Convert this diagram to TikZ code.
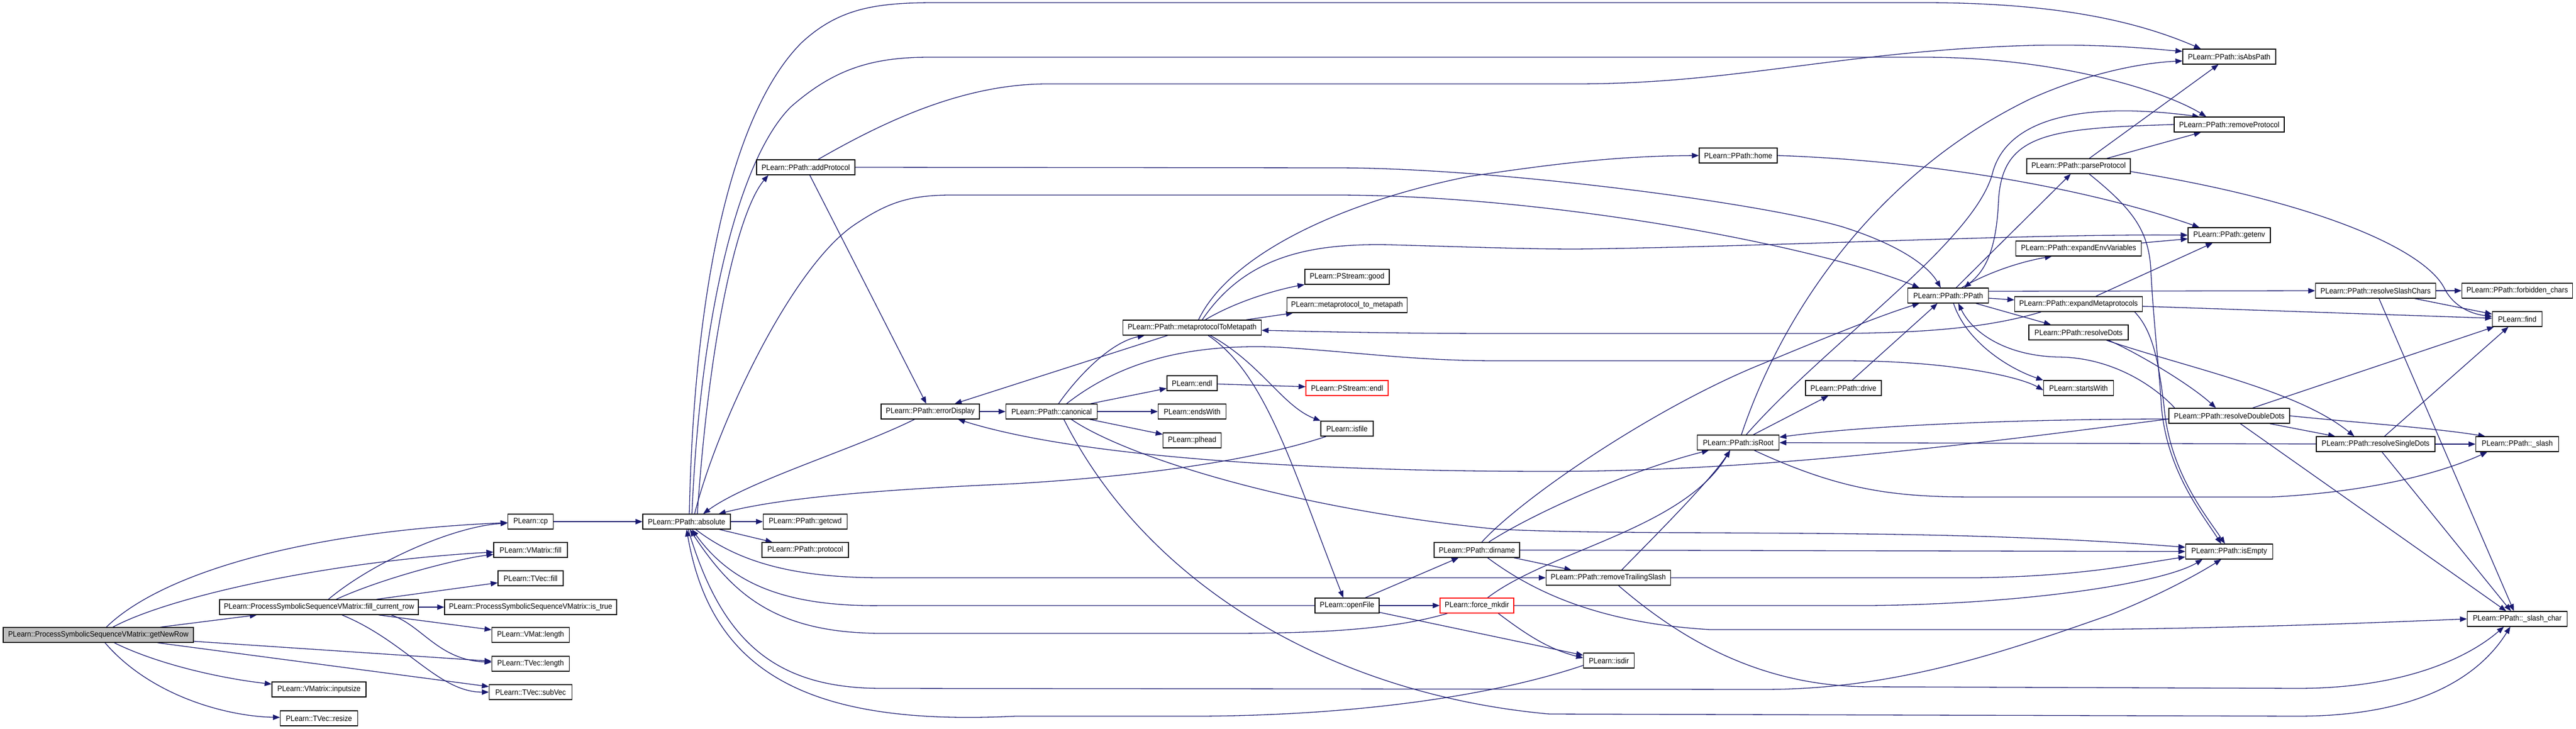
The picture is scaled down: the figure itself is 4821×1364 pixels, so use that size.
\documentclass[tikz,border=0pt]{standalone}
\usepackage{fontspec}
\newfontfamily\dfont[FakeStretch=0.92]{Liberation Sans}
\usetikzlibrary{arrows.meta}
\definecolor{edgeblue}{HTML}{191970}
\definecolor{rootgray}{HTML}{BFBFBF}
\pgfdeclarelayer{bg}
\pgfsetlayers{bg,main}
\tikzset{
 nd/.style={draw=black, line width=1.3pt, fill=white, minimum width=#1pt, minimum height=28pt, inner xsep=3pt, inner ysep=0pt, font=\dfont\fontsize{14.5}{17}\selectfont},
 ndg/.style={nd=#1, fill=rootgray},
 ndr/.style={nd=#1, draw=red},
 cge/.style={draw=edgeblue, line width=1.3pt, -{Triangle[length=13pt,width=10pt]}},
}
\begin{document}
\begin{tikzpicture}[x=1pt,y=-1pt]
\useasboundingbox (0,0) rectangle (4821,1364);
% nodes
\node[ndg=356] (gnr) at (184,1188) {PLearn::ProcessSymbolicSequenceVMatrix::getNewRow};
\node[nd=372] (fcr) at (597,1136) {PLearn::ProcessSymbolicSequenceVMatrix::fill\_current\_row};
\node[nd=176] (inputsize) at (597,1290) {PLearn::VMatrix::inputsize};
\node[nd=145] (resize) at (597,1344) {PLearn::TVec::resize};
\node[nd=85] (cp) at (993,976) {PLearn::cp};
\node[nd=138] (vmfill) at (993,1029) {PLearn::VMatrix::fill};
\node[nd=122] (tvfill) at (993,1082) {PLearn::TVec::fill};
\node[nd=322] (istrue) at (993,1136) {PLearn::ProcessSymbolicSequenceVMatrix::is\_true};
\node[nd=145] (vmlen) at (993,1188) {PLearn::VMat::length};
\node[nd=145] (tvlen) at (993,1242) {PLearn::TVec::length};
\node[nd=155] (subvec) at (993,1295) {PLearn::TVec::subVec};
\node[nd=164] (absolute) at (1285,976) {PLearn::PPath::absolute};
\node[nd=157] (getcwd) at (1507,976) {PLearn::PPath::getcwd};
\node[nd=162] (protocol) at (1507,1029) {PLearn::PPath::protocol};
\node[nd=184] (addProtocol) at (1508,313) {PLearn::PPath::addProtocol};
\node[nd=184] (errorDisplay) at (1741,770) {PLearn::PPath::errorDisplay};
\node[nd=171] (canonical) at (1968,770) {PLearn::PPath::canonical};
\node[nd=259] (mTM) at (2231,613) {PLearn::PPath::metaprotocolToMetapath};
\node[nd=94] (endl) at (2231,717) {PLearn::endl};
\node[nd=127] (endsWith) at (2231,770) {PLearn::endsWith};
\node[nd=109] (plhead) at (2231,824) {PLearn::plhead};
\node[nd=158] (good) at (2521,518) {PLearn::PStream::good};
\node[nd=225] (m2m) at (2521,571) {PLearn::metaprotocol\_to\_metapath};
\node[ndr=154] (pendl) at (2521,726) {PLearn::PStream::endl};
\node[nd=98] (isfile) at (2521,802) {PLearn::isfile};
\node[nd=120] (openFile) at (2521,1133) {PLearn::openFile};
\node[nd=160] (dirname) at (2764,1029) {PLearn::PPath::dirname};
\node[ndr=138] (forcemkdir) at (2764,1133) {PLearn::force\_mkdir};
\node[nd=233] (rts) at (3010,1081) {PLearn::PPath::removeTrailingSlash};
\node[nd=95] (isdir) at (3011,1236) {PLearn::isdir};
\node[nd=146] (home) at (3253,291) {PLearn::PPath::home};
\node[nd=153] (isRoot) at (3253,828) {PLearn::PPath::isRoot};
\node[nd=142] (drive) at (3450,726) {PLearn::PPath::drive};
\node[nd=151] (PPath) at (3646,553) {PLearn::PPath::PPath};
\node[nd=194] (parseProtocol) at (3890,311) {PLearn::PPath::parseProtocol};
\node[nd=235] (expandEnv) at (3890,465) {PLearn::PPath::expandEnvVariables};
\node[nd=239] (expandMeta) at (3890,569) {PLearn::PPath::expandMetaprotocols};
\node[nd=186] (resolveDots) at (3890,622) {PLearn::PPath::resolveDots};
\node[nd=131] (startsWith) at (3890,726) {PLearn::startsWith};
\node[nd=174] (isAbsPath) at (4172,106) {PLearn::PPath::isAbsPath};
\node[nd=206] (removeProtocol) at (4172,233) {PLearn::PPath::removeProtocol};
\node[nd=154] (getenv) at (4172,440) {PLearn::PPath::getenv};
\node[nd=226] (rdd) at (4172,778) {PLearn::PPath::resolveDoubleDots};
\node[nd=163] (isEmpty) at (4172,1032) {PLearn::PPath::isEmpty};
\node[nd=225] (rsc) at (4446,544) {PLearn::PPath::resolveSlashChars};
\node[nd=222] (rsd) at (4446,831) {PLearn::PPath::resolveSingleDots};
\node[nd=207] (forbidden) at (4711,544) {PLearn::PPath::forbidden\_chars};
\node[nd=93] (find) at (4711,597) {PLearn::find};
\node[nd=155] (slash) at (4711,831) {PLearn::PPath::\_slash};
\node[nd=187] (slashchar) at (4711,1158) {PLearn::PPath::\_slash\_char};

\begin{pgfonlayer}{bg}
\fill[white] (0,0) rectangle (4821,1364);
% getNewRow
\draw[cge] (gnr) .. controls (300,1075) and (560,995) .. (cp);
\draw[cge] (gnr) .. controls (320,1115) and (620,1050) .. (vmfill);
\draw[cge] (gnr) -- (fcr);
\draw[cge] (gnr) -- (tvlen);
\draw[cge] (gnr) -- (subvec);
\draw[cge] (gnr) .. controls (300,1245) and (420,1270) .. (inputsize);
\draw[cge] (gnr) .. controls (280,1300) and (420,1340) .. (resize);
% fill_current_row
\draw[cge] (fcr) .. controls (700,1050) and (850,985) .. (cp);
\draw[cge] (fcr) .. controls (720,1080) and (860,1045) .. (vmfill);
\draw[cge] (fcr) -- (tvfill);
\draw[cge] (fcr) -- (istrue);
\draw[cge] (fcr) -- (vmlen);
\draw[cge] ([xshift=135pt]fcr.south) .. controls (790,1170) and (820,1235) .. (tvlen);
\draw[cge] ([xshift=43pt]fcr.south) .. controls (760,1200) and (820,1295) .. (subvec);
% cp, absolute
\draw[cge] (cp) -- (absolute);
\draw[cge] (absolute) -- (getcwd);
\draw[cge] (absolute) -- (protocol);
\draw[cge] ([xshift=20pt]absolute.north) .. controls (1330,600) and (1385,390) .. ([xshift=-70pt]addProtocol.south);
\draw[cge] ([xshift=5pt]absolute.north) .. controls (1300,500) and (1380,200) .. (1500,80) .. controls (1570,15) and (1640,5) .. (1750,5) -- (3600,5) .. controls (3850,5) and (4000,40) .. ([xshift=-53pt]isAbsPath.north);
\draw[cge] ([xshift=10pt]absolute.north) .. controls (1310,600) and (1380,300) .. (1480,200) .. controls (1560,130) and (1630,107) .. (1740,107) -- (3600,107) .. controls (3850,107) and (4050,170) .. ([xshift=-43pt]removeProtocol.north);
\draw[cge] ([xshift=15pt]absolute.north) .. controls (1340,800) and (1480,500) .. (1600,420) .. controls (1660,380) and (1700,365) .. (1780,365) -- (2500,365) .. controls (2900,365) and (3400,460) .. ([xshift=-54pt]PPath.north);
\draw[cge] ([xshift=17pt]absolute.south) .. controls (1380,1050) and (1480,1081) .. (1650,1081) -- (rts.west);
\draw[cge] ([xshift=3pt]absolute.south) .. controls (1350,1200) and (1450,1288) .. (1650,1288) -- (3300,1290) .. controls (3550,1290) and (3750,1220) .. (3950,1150) .. controls (4050,1110) and (4120,1070) .. ([xshift=-15pt]isEmpty.south);
% addProtocol
\draw[cge] ([xshift=23pt]addProtocol.north) .. controls (1650,230) and (1800,157) .. (1960,157) -- (2950,157) .. controls (3250,157) and (3450,95) .. (3800,85) .. controls (3950,82) and (4030,92) .. ([yshift=10pt]isAbsPath.west);
\draw[cge] (addProtocol.east) -- (2500,314) .. controls (2800,314) and (3300,380) .. (3450,425) .. controls (3560,460) and (3610,500) .. ([xshift=-14pt]PPath.north);
\draw[cge] (addProtocol) -- (errorDisplay);
% errorDisplay
\draw[cge] (errorDisplay) .. controls (1600,840) and (1400,900) .. ([xshift=31pt]absolute.north);
\draw[cge] (errorDisplay) -- (canonical);
\draw[cge] (mTM) -- (errorDisplay);
\draw[cge] ([yshift=-6pt]rdd.west) .. controls (3700,830) and (3300,882) .. (2900,882) .. controls (2400,882) and (2000,850) .. ([xshift=52pt]errorDisplay.south);
% canonical
\draw[cge] ([xshift=13pt]canonical.north) .. controls (2020,700) and (2080,640) .. ([xshift=-89pt]mTM.south);
\draw[cge] (canonical) -- (endl);
\draw[cge] (canonical) -- (endsWith);
\draw[cge] (canonical) -- (plhead);
\draw[cge] ([xshift=28pt]canonical.north) .. controls (2080,690) and (2200,640) .. (2400,650) .. controls (2550,660) and (2650,675) .. (2800,675) -- (3450,675) .. controls (3650,675) and (3780,705) .. ([yshift=-4pt]startsWith.west);
\draw[cge] ([xshift=37pt]canonical.south) .. controls (2100,850) and (2400,950) .. (2800,990) .. controls (3100,1005) and (3600,985) .. ([yshift=8pt]isEmpty.west);
\draw[cge] ([xshift=23pt]canonical.south) .. controls (2150,1100) and (2500,1300) .. (2900,1336) -- (4300,1340) .. controls (4550,1340) and (4650,1250) .. ([xshift=-13pt]slashchar.south);
% metaprotocolToMetapath
\draw[cge] (mTM) .. controls (2320,560) and (2400,540) .. (good);
\draw[cge] (mTM) -- (m2m);
\draw[cge] ([xshift=12pt]mTM.north) .. controls (2300,480) and (2500,380) .. (2750,330) .. controls (2950,300) and (3050,292) .. (home.west);
\draw[cge] ([xshift=19pt]mTM.north) .. controls (2330,480) and (2450,455) .. (2600,458) .. controls (2750,462) and (2850,466) .. (2950,466) .. controls (3300,462) and (3800,437) .. (getenv.west);
\draw[cge] ([xshift=34pt]mTM.south) .. controls (2360,680) and (2400,760) .. (isfile.north west);
\draw[cge] ([xshift=30pt]mTM.south) .. controls (2370,700) and (2420,880) .. ([xshift=-7pt]openFile.north);
\draw[cge] (endl) -- (pendl);
\draw[cge] ([xshift=-70pt]expandMeta.south) .. controls (3700,620) and (3550,624) .. (3400,624) -- (2800,624) .. controls (2600,624) and (2450,620) .. ([yshift=-5pt]mTM.east);
\draw[cge] ([xshift=-39pt]isfile.south) .. controls (2350,860) and (2150,890) .. (1900,905) .. controls (1600,918) and (1450,935) .. ([xshift=60pt]absolute.north);
% openFile
\draw[cge] (openFile) -- (dirname);
\draw[cge] (openFile) -- (forcemkdir);
\draw[cge] (openFile) -- (isdir);
\draw[cge] (openFile.west) -- (1650,1133) .. controls (1450,1136) and (1360,1080) .. ([xshift=10pt]absolute.south);
% force_mkdir
\draw[cge] ([xshift=-55pt]forcemkdir.south) .. controls (2600,1180) and (2450,1185) .. (2300,1185) -- (1650,1185) .. controls (1450,1185) and (1370,1110) .. ([xshift=6pt]absolute.south);
\draw[cge] ([xshift=20pt]forcemkdir.north) .. controls (2900,1030) and (3150,990) .. ([xshift=-15pt]isRoot.south);
\draw[cge] ([xshift=40pt]forcemkdir.south) .. controls (2860,1190) and (2900,1215) .. ([yshift=5pt]isdir.west);
\draw[cge] (forcemkdir.east) -- (3500,1133) .. controls (3800,1130) and (4050,1090) .. ([xshift=-50pt]isEmpty.south);
% isdir
\draw[cge] ([yshift=-9pt]isdir.west) .. controls (2800,1300) and (2550,1338) .. (2250,1340) -- (1900,1340) .. controls (1500,1360) and (1330,1250) .. (absolute.south);
% dirname
\draw[cge] ([xshift=9pt]dirname.north) .. controls (2850,930) and (3100,760) .. (3300,680) .. controls (3420,630) and (3520,590) .. ([xshift=-54pt]PPath.south);
\draw[cge] ([xshift=22pt]dirname.north) .. controls (2870,960) and (3050,880) .. ([xshift=-55pt]isRoot.south);
\draw[cge] (dirname) -- (rts);
\draw[cge] (dirname) -- (isEmpty);
\draw[cge] ([xshift=20pt]dirname.south) .. controls (2860,1100) and (2980,1165) .. (3200,1178) -- (3900,1178) .. controls (4200,1175) and (4450,1165) .. (slashchar.west);
% removeTrailingSlash
\draw[cge] ([xshift=25pt]rts.north) .. controls (3100,1000) and (3200,900) .. ([xshift=-15pt]isRoot.south);
\draw[cge] (rts.east) -- (3700,1081) .. controls (3900,1078) and (4000,1055) .. ([yshift=-10pt]isEmpty.west);
\draw[cge] ([xshift=19pt]rts.south) .. controls (3150,1200) and (3300,1285) .. (3500,1285) -- (4300,1288) .. controls (4500,1288) and (4620,1230) .. ([xshift=-25pt]slashchar.south);
% isRoot
\draw[cge] (isRoot) -- (drive);
\draw[cge] (drive) -- ([xshift=-20pt]PPath.south);
\draw[cge] ([xshift=6pt]isRoot.north) .. controls (3330,600) and (3500,330) .. (3800,185) .. controls (3900,140) and (4000,118) .. ([yshift=-8pt]isAbsPath.west);
\draw[cge] ([xshift=15pt]isRoot.north) .. controls (3420,640) and (3700,450) .. (3730,320) .. controls (3760,220) and (3900,190) .. ([xshift=-56pt]removeProtocol.north);
\draw[cge] ([xshift=30pt]isRoot.south) .. controls (3450,920) and (3550,930) .. (3700,930) -- (4250,930) .. controls (4450,920) and (4580,880) .. ([xshift=-56pt]slash.south);
% resolveDoubleDots / SingleDots
\draw[cge] ([yshift=-6pt]rdd.west) .. controls (3800,784) and (3500,795) .. ([yshift=10pt]isRoot.east);
\draw[cge] (rsd) -- (isRoot);
\draw[cge] ([xshift=-102pt]rdd.north) .. controls (4030,720) and (3950,668) .. (3850,668) .. controls (3750,665) and (3690,620) .. ([xshift=19pt]PPath.south);
\draw[cge] (rdd) -- (rsd);
\draw[cge] (rdd.east) .. controls (4400,790) and (4550,800) .. ([xshift=-60pt]slash.north);
\draw[cge] (rdd) -- (slashchar);
\draw[cge] (rdd) -- (find);
\draw[cge] (rsd) -- (slash);
\draw[cge] (rsd) -- (slashchar);
\draw[cge] (rsd) -- (find);
\draw[cge] ([xshift=56pt]resolveDots.south) .. controls (4000,660) and (4100,720) .. ([xshift=-25pt]rdd.north);
\draw[cge] ([xshift=52pt]resolveDots.south) .. controls (4100,690) and (4300,730) .. ([xshift=-40pt]rsd.north);
% resolveSlashChars
\draw[cge] (rsc) -- (forbidden);
\draw[cge] (rsc) -- (find);
\draw[cge] (rsc) -- (slashchar);
% PPath
\draw[cge] (PPath) -- (parseProtocol);
\draw[cge] (PPath) .. controls (3720,510) and (3780,490) .. ([xshift=-50pt]expandEnv.south);
\draw[cge] (PPath) -- (expandMeta);
\draw[cge] (PPath) -- (resolveDots);
\draw[cge] ([yshift=8pt]PPath.east) -- (rsc.west);
\draw[cge] ([xshift=10pt]PPath.south) .. controls (3680,640) and (3760,690) .. (startsWith.north west);
\draw[cge] (removeProtocol.west) .. controls (3830,240) and (3745,250) .. (3740,380) .. controls (3735,480) and (3710,510) .. ([xshift=30pt]PPath.north);
% parseProtocol
\draw[cge] (parseProtocol) -- (isAbsPath);
\draw[cge] (parseProtocol) -- (removeProtocol);
\draw[cge] ([yshift=-10pt]parseProtocol.east) .. controls (4350,380) and (4540,470) .. (4575,540) .. controls (4590,570) and (4620,587) .. ([yshift=5pt]find.west);
\draw[cge] ([xshift=20pt]parseProtocol.south) .. controls (3990,390) and (4020,430) .. (4025,500) .. controls (4030,600) and (4040,680) .. (4045,760) .. controls (4055,880) and (4120,960) .. ([xshift=-15pt]isEmpty.north);
% expandMetaprotocols / EnvVariables / home
\draw[cge] ([xshift=105pt]expandMeta.south) .. controls (4030,620) and (4040,680) .. (4050,760) .. controls (4060,880) and (4125,960) .. ([xshift=-8pt]isEmpty.north);
\draw[cge] (expandMeta) -- ([xshift=-31pt]getenv.south);
\draw[cge] (expandMeta) -- (find);
\draw[cge] (expandEnv) -- (getenv);
\draw[cge] (home.east) .. controls (3600,300) and (3900,350) .. ([xshift=-56pt]getenv.north);
\end{pgfonlayer}
\end{tikzpicture}
\end{document}
